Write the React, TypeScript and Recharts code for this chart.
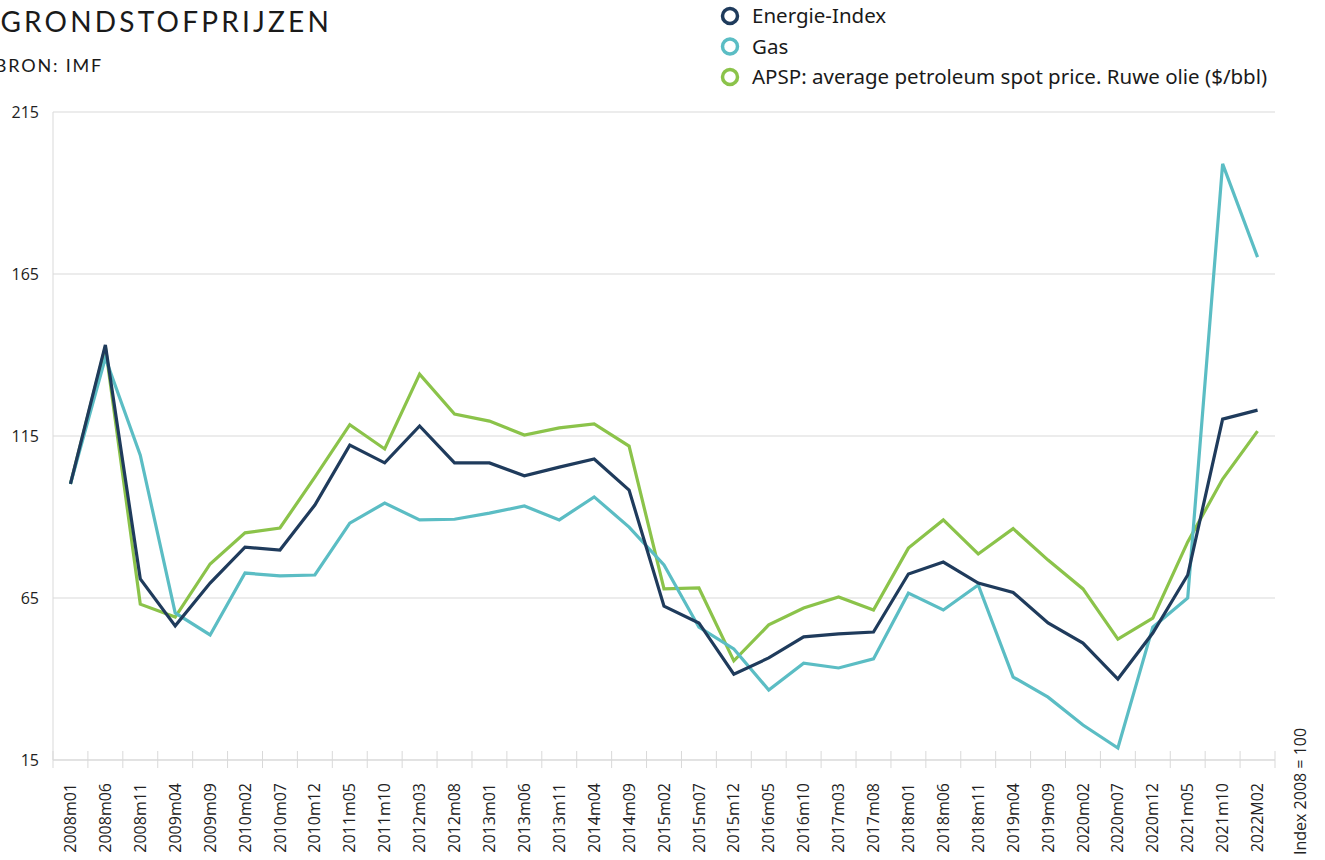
import React from 'react';
import { LineChart, Line, XAxis, YAxis, CartesianGrid } from 'recharts';

const categories = ['2008m01','2008m06','2008m11','2009m04','2009m09','2010m02','2010m07','2010m12','2011m05','2011m10','2012m03','2012m08','2013m01','2013m06','2013m11','2014m04','2014m09','2015m02','2015m07','2015m12','2016m05','2016m10','2017m03','2017m08','2018m01','2018m06','2018m11','2019m04','2019m09','2020m02','2020m07','2020m12','2021m05','2021m10','2022M02'];
const energie = [100.2, 143.1, 70.9, 56.4, 69.6, 80.7, 79.8, 93.7, 112.2, 106.7, 118.1, 106.7, 106.7, 102.7, 105.4, 107.9, 98.3, 62.5, 57.3, 41.5, 46.5, 53, 53.9, 54.5, 72.4, 76.1, 69.6, 66.7, 57.3, 51.1, 40, 54.2, 72.1, 120.2, 123];
const gas = [100.2, 139.1, 109.1, 60.4, 53.6, 72.7, 71.8, 72.1, 88.1, 94.3, 89.1, 89.3, 91.2, 93.4, 89.1, 96.2, 86.9, 75.2, 56, 49.3, 36.6, 44.9, 43.4, 46.2, 66.5, 61.3, 69, 40.6, 34.4, 25.8, 18.7, 56, 65, 199, 170.2];
const apsp = [100.2, 142.5, 63.1, 59.1, 75.5, 85.1, 86.6, 102.3, 118.5, 111, 134.1, 121.8, 119.6, 115.3, 117.5, 118.7, 111.9, 67.8, 68.1, 45.6, 56.7, 61.9, 65.3, 61.3, 80.4, 89.1, 78.6, 86.4, 76.7, 67.8, 52.3, 58.8, 82.3, 101.7, 116.5];
const yTicks = [15, 65, 115, 165, 215];

const seriesInfo = [
  { key: 'energie', name: 'Energie-Index', color: '#1f3b5c' },
  { key: 'gas', name: 'Gas', color: '#5bbdc4' },
  { key: 'apsp', name: 'APSP: average petroleum spot price. Ruwe olie ($/bbl)', color: '#8bc34a' },
];

const data = categories.map((c, i) => ({ cat: c, energie: energie[i], gas: gas[i], apsp: apsp[i] }));

const XTick = (props: any) => {
  const { x, y, payload, index } = props;
  const off = payload && payload.offset != null ? payload.offset : 17.45;
  const last = index === categories.length - 1;
  return (
    <g>
      <line x1={x - off} x2={x - off} y1={y} y2={y - 17} stroke="#d9d9d9" strokeWidth={1} />
      {last && <line x1={x + off} x2={x + off} y1={y} y2={y - 17} stroke="#d9d9d9" strokeWidth={1} />}
      <text
        x={x}
        y={y + 15}
        dy="0.35em"
        textAnchor="end"
        transform={`rotate(-90, ${x}, ${y + 15})`}
        fontSize={16}
        fontFamily="'Open Sans', sans-serif"
        fill="#222"
      >
        {payload.value}
      </text>
    </g>
  );
};

export default function App() {
  return (
    <div style={{ position: 'absolute', left: 0, top: 0, width: 1325, height: 860, background: '#fff', overflow: 'hidden' }}>
      <svg width={1325} height={100} style={{ position: 'absolute', left: 0, top: 0 }}>
        <text x={332} y={32} textAnchor="end" fontSize={28} fontFamily="Lato, sans-serif" letterSpacing={3.2} fill="#1a1a1a">GRONDSTOFPRIJZEN</text>
        <text x={103} y={72} textAnchor="end" fontSize={18} fontFamily="Lato, sans-serif" letterSpacing={1.8} fill="#1a1a1a">BRON: IMF</text>
        {seriesInfo.map((s, i) => (
          <g key={s.key}>
            <circle cx={730} cy={16 + i * 30.5} r={7.5} fill="none" stroke={s.color} strokeWidth={3.5} />
            <text x={752} y={16 + i * 30.5} dy="0.35em" fontSize={20.5} fontFamily="'Noto Sans', sans-serif" fill="#1a1a1a">{s.name}</text>
          </g>
        ))}
      </svg>
      <div style={{ position: 'absolute', left: 0, top: 0 }}>
        <LineChart width={1325} height={860} data={data} margin={{ top: 112, right: 50, bottom: 0, left: 0 }}>
          <CartesianGrid horizontal={true} vertical={false} stroke="#d9d9d9" />
          <XAxis
            dataKey="cat"
            scale="band"
            interval={0}
            height={100}
            tickLine={false}
            axisLine={{ stroke: '#d9d9d9' }}
            tick={<XTick />}
          />
          <YAxis
            domain={[15, 215]}
            ticks={yTicks}
            width={53}
            tickLine={false}
            axisLine={{ stroke: '#d9d9d9' }}
            tickMargin={8}
            tick={{ fontSize: 16, fontFamily: "'Open Sans', sans-serif", fill: '#222' }}
          />
          <Line dataKey="apsp" stroke="#8bc34a" strokeWidth={3.2} dot={false} isAnimationActive={false} />
          <Line dataKey="gas" stroke="#5bbdc4" strokeWidth={3.2} dot={false} isAnimationActive={false} />
          <Line dataKey="energie" stroke="#1f3b5c" strokeWidth={3.2} dot={false} isAnimationActive={false} />
        </LineChart>
      </div>
      <svg width={30} height={860} style={{ position: 'absolute', left: 1290, top: 0 }}>
        <text x={16} y={855} transform="rotate(-90, 16, 855)" fontSize={16} fontFamily="'Open Sans', sans-serif" fill="#222">Index 2008 = 100</text>
      </svg>
    </div>
  );
}
